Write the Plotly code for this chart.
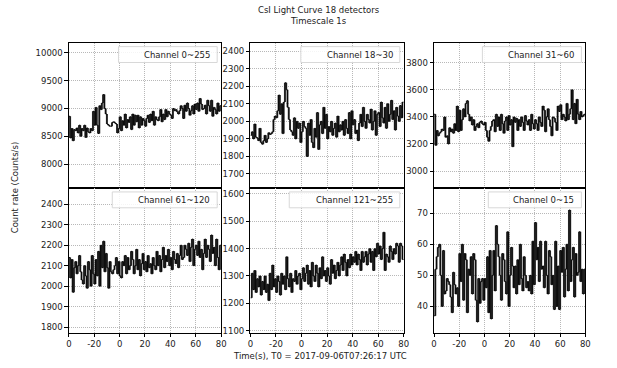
import plotly.graph_objects as go

W, H = 617, 368

time_s = list(range(-40, 80))
x_tick_vals = [-40, -20, 0, 20, 40, 60, 80]
x_tick_text = ["0", "-20", "0", "20", "40", "60", "80"]

ch_0_255 = [
    8860, 8470, 8640, 8420, 8620, 8600, 8650, 8560, 8700, 8500,
    8640, 8600, 8700, 8480, 8650, 8580, 8560, 8640, 8600, 8950,
    8700, 9020, 8700, 8550, 9050, 8980, 9100, 9250, 9000, 8900,
    8720, 8700, 8680, 8680, 8750, 8760, 8740, 8720, 8560, 8640,
    8850, 8600, 8780, 8700, 8900, 8650, 8800, 8750, 8850, 8620,
    8900, 8700, 8880, 8760, 8880, 8650, 8850, 8700, 8820, 8780,
    8680, 8820, 8880, 8750, 8900, 8780, 8950, 8700, 8850, 8800,
    8780, 8850, 8980, 8760, 8900, 8800, 8980, 8850, 8950, 8900,
    8880, 8820, 9000, 8960, 8980, 8940, 8900, 8960, 9050, 9000,
    8820, 9060, 8950, 9100, 9000, 8880, 8960, 9050, 8900, 9080,
    8980, 9100, 8950, 9180, 9080, 8980, 9000, 9060, 8900, 9150,
    9050, 8950, 9150, 8860, 9020, 8980, 8900, 9100, 8950, 9050,
]
ch_18_30 = [
    1920, 1940, 1900, 1985, 1910, 1905, 1890, 1960, 1880, 1870,
    1890, 1920, 1880, 1900, 1935, 1925, 1930, 1940, 2010, 2030,
    2020, 2060, 2150, 2040, 2100, 1930, 2110, 2220, 2180, 2080,
    2010, 1950, 1940, 1920, 2020, 1900, 2000, 1960, 1990, 1880,
    1940, 2000, 1970, 1960, 1800, 1990, 1920, 2010, 1880, 1850,
    1960, 1910, 2050, 1840, 1980, 2000, 1930, 2080, 1960, 2040,
    1900, 1970, 1940, 2000, 1920, 1960, 1990, 1910, 2030, 1940,
    1980, 1950, 2000, 1920, 2010, 1960, 1930, 2050, 1900, 2060,
    1980, 2010, 1930, 1950, 1890, 1990, 2040, 1970, 2080, 2000,
    1960, 2040, 2010, 1990, 2070, 1950, 2000, 2060, 1920, 2040,
    2050, 1970, 2110, 2020, 1990, 2080, 1960, 2100, 2000, 2040,
    2120, 2010, 2060, 1950, 2080, 2030, 2000, 2090, 2020, 2110,
]
ch_31_60 = [
    3420, 3190, 3300, 3260, 3280, 3290, 3310, 3300, 3400, 3250,
    3260, 3200, 3320, 3290, 3310, 3280, 3350, 3300, 3480, 3290,
    3450, 3300, 3380, 3460, 3400, 3500, 3520, 3420, 3370, 3400,
    3340, 3380, 3300, 3330, 3350, 3320, 3360, 3370, 3350, 3340,
    3360, 3300, 3250, 3220, 3300, 3330, 3370, 3380, 3290, 3420,
    3330, 3400, 3300, 3420, 3350, 3280, 3370, 3400, 3300, 3410,
    3340, 3380, 3180, 3400, 3360, 3390, 3300, 3380, 3330, 3400,
    3360, 3300, 3410, 3370, 3340, 3380, 3300, 3420, 3350, 3310,
    3380, 3350, 3300, 3400, 3360, 3330, 3480, 3450, 3290, 3400,
    3460, 3380, 3330, 3260, 3400, 3390, 3360, 3300, 3480, 3440,
    3490, 3380, 3420, 3400, 3370, 3500, 3380, 3420, 3460, 3600,
    3380, 3500, 3350, 3530, 3420, 3380, 3440, 3400, 3410, 3420,
]
ch_61_120 = [
    2140, 2040, 2130, 1970, 2090, 2120, 2060, 2100, 2150, 2070,
    2030, 2010, 2100, 2050, 1990, 2120, 2080, 2000, 2150, 2060,
    2010, 2130, 2050, 2170, 2000, 2200, 2090, 2220, 2070, 2160,
    2090, 1990, 2120, 2070, 2060, 2080, 2100, 2140, 2060, 2120,
    2050, 2040, 2120, 2100, 2150, 2060, 2140, 2080, 2100, 2170,
    2130, 2060, 2100, 2180, 2080, 2130, 2050, 2110, 2160, 2080,
    2120, 2070, 2150, 2090, 2110, 2060, 2140, 2100, 2080, 2170,
    2100, 2150, 2070, 2130, 2190, 2090, 2150, 2120, 2180, 2100,
    2140, 2080, 2170, 2130, 2110, 2160, 2090, 2150, 2200, 2130,
    2140, 2200, 2180, 2150, 2210, 2120, 2190, 2230, 2100, 2180,
    2200, 2150, 2220, 2140, 2180, 2080, 2160, 2230, 2140, 2200,
    2180, 2120, 2250, 2160, 2190, 2100, 2230, 2140, 2080, 2200,
]
ch_121_255 = [
    1220, 1310, 1250, 1320, 1240, 1290, 1260, 1300, 1230, 1280,
    1250, 1300, 1240, 1270, 1210, 1310, 1250, 1340, 1260, 1290,
    1240, 1300, 1280, 1230, 1310, 1270, 1300, 1250, 1370, 1290,
    1260, 1310, 1240, 1290, 1280, 1320, 1270, 1300, 1310, 1250,
    1290, 1330, 1280, 1310, 1340, 1270, 1320, 1260, 1350, 1300,
    1280, 1340, 1310, 1260, 1330, 1290, 1370, 1300, 1320, 1280,
    1330, 1300, 1270, 1360, 1310, 1340, 1290, 1320, 1350, 1300,
    1340, 1370, 1320, 1380, 1350, 1300, 1360, 1330, 1380, 1340,
    1370, 1350, 1390, 1340, 1380, 1360, 1320, 1390, 1350, 1370,
    1390, 1340, 1380, 1400, 1350, 1390, 1320, 1400, 1370, 1420,
    1380, 1410, 1360, 1400, 1460, 1320, 1380, 1370, 1350, 1410,
    1390, 1360, 1400, 1380, 1420, 1410, 1350, 1420, 1410, 1360,
]
ch_0_15 = [
    37, 52, 56, 59, 60, 50, 40, 58, 44, 45,
    49, 48, 47, 43, 38, 51, 47, 44, 46, 40,
    57, 48, 60, 42, 57, 55, 38, 52, 50, 56,
    44, 57, 55, 42, 35, 49, 41, 48, 49, 42,
    49, 46, 56, 38, 58, 36, 50, 58, 45, 66,
    60, 56, 50, 42, 57, 55, 48, 44, 64, 40,
    50, 59, 53, 46, 53, 44, 55, 47, 60, 49,
    45, 56, 50, 46, 48, 45, 50, 44, 61, 47,
    67, 55, 59, 48, 61, 52, 53, 46, 61, 50,
    44, 58, 56, 47, 50, 39, 61, 40, 53, 39,
    58, 51, 59, 43, 52, 60, 45, 71, 48, 55,
    59, 43, 57, 50, 51, 64, 48, 52, 44, 52,
]

channel_labels = ["Channel 0~255", "Channel 18~30", "Channel 31~60",
                  "Channel 61~120", "Channel 121~255", "Channel 0~15"]
series = [ch_0_255, ch_18_30, ch_31_60, ch_61_120, ch_121_255, ch_0_15]
y_ranges = [[7571, 10184], [1620, 2449], [2875, 3949],
            [1773, 2480], [1093, 1622], [31.6, 78.1]]
y_ticks = [[8000, 8500, 9000, 9500, 10000],
           [1700, 1800, 1900, 2000, 2100, 2200, 2300, 2400],
           [3000, 3200, 3400, 3600, 3800],
           [1800, 1900, 2000, 2100, 2200, 2300, 2400],
           [1100, 1200, 1300, 1400, 1500, 1600],
           [40, 50, 60, 70]]

# layout in pixels
col_px = [(66.7, 221.0), (250.7, 406.0), (436.7, 590.0)]
row_px = [(43.0, 189.5), (189.5, 335.3)]
legend_left_px = [117, 301.7, 485.7, 110.7, 290, 491.7]

FONT = "DejaVu Sans"
GRID = dict(showgrid=True, gridcolor="#b8b8b8", griddash="1px,1px", gridwidth=0.8)
fig = go.Figure()
layout = dict(
    width=W, height=H, margin=dict(l=0, r=0, t=0, b=0),
    paper_bgcolor="white", plot_bgcolor="white", showlegend=False,
    font=dict(family=FONT, size=8.5, color="#222"),
)
shapes, annotations = [], []

for i, (vals, label) in enumerate(zip(series, channel_labels)):
    r, c = divmod(i, 3)
    n = i + 1
    xa = "x" if n == 1 else f"x{n}"
    ya = "y" if n == 1 else f"y{n}"
    # thick vertical step transitions
    mids = [(vals[k - 1] + vals[k]) / 2 for k in range(1, len(vals))]
    half = [abs(vals[k] - vals[k - 1]) / 2 for k in range(1, len(vals))]
    fig.add_trace(go.Scatter(
        x=time_s[1:], y=mids, mode="markers", xaxis=xa, yaxis=ya,
        marker=dict(size=1, color="rgba(0,0,0,0)"),
        error_y=dict(type="data", array=half, symmetric=True, width=0,
                     thickness=2.0, color="#454545"),
        hoverinfo="skip"))
    fig.add_trace(go.Scatter(
        x=time_s + [time_s[-1] + 1], y=vals + [vals[-1]], mode="lines",
        xaxis=xa, yaxis=ya, line=dict(shape="hv", color="black", width=0.9),
        hoverinfo="skip"))

    x0, x1 = col_px[c]
    y0, y1 = row_px[r]
    xd = [x0 / W, x1 / W]
    yd = [1 - y1 / H, 1 - y0 / H]
    kx = "xaxis" if n == 1 else f"xaxis{n}"
    ky = "yaxis" if n == 1 else f"yaxis{n}"
    layout[kx] = dict(
        domain=xd, anchor=ya, range=[-40, 80], tickvals=x_tick_vals,
        ticktext=x_tick_text, showticklabels=(r == 1),
        ticks="outside" if r == 1 else "", ticklen=3.5, tickcolor="black",
        showline=True, mirror=True, linecolor="black", linewidth=1,
        zeroline=False, tickfont=dict(size=8.5, color="#222"), **GRID)
    layout[ky] = dict(
        domain=yd, anchor=xa, range=y_ranges[i], tickvals=y_ticks[i],
        tickformat="d",
        ticks="outside", ticklen=3.5, tickcolor="black",
        showline=True, mirror=True, linecolor="black", linewidth=1,
        zeroline=False, tickfont=dict(size=8.5, color="#222"), **GRID)

    # legend box
    bx0 = legend_left_px[i]
    bx1 = x1 - 4
    by0 = y0 + 4
    by1 = y0 + 20
    shapes.append(dict(type="rect", xref="paper", yref="paper",
                       x0=bx0 / W, x1=bx1 / W, y0=1 - by1 / H, y1=1 - by0 / H,
                       line=dict(color="#d8d8d8", width=1),
                       fillcolor="rgba(255,255,255,0.85)", layer="above"))
    annotations.append(dict(text=label, xref="paper", yref="paper",
                            x=(bx1 - 5) / W, y=1 - (by0 + by1) / 2 / H,
                            xanchor="right", yanchor="middle", showarrow=False,
                            font=dict(size=8.5, color="#222")))

annotations.append(dict(text="CsI Light Curve 18 detectors<br>Timescale 1s",
                        xref="paper", yref="paper", x=320.5 / W, y=1 - 3 / H,
                        xanchor="center", yanchor="top", showarrow=False,
                        font=dict(size=8.5, color="#222")))
annotations.append(dict(text="Count rate (Counts/s)", xref="paper", yref="paper",
                        x=13 / W, y=1 - 189 / H, textangle=-90,
                        xanchor="center", yanchor="middle", showarrow=False,
                        font=dict(size=8.5, color="#222")))
annotations.append(dict(text="Time(s), T0 = 2017-09-06T07:26:17 UTC",
                        xref="paper", yref="paper", x=321 / W, y=1 - 359 / H,
                        xanchor="center", yanchor="middle", showarrow=False,
                        font=dict(size=8.5, color="#222")))

layout["shapes"] = shapes
layout["annotations"] = annotations
fig.update_layout(**layout)
fig.write_html("out.html")
